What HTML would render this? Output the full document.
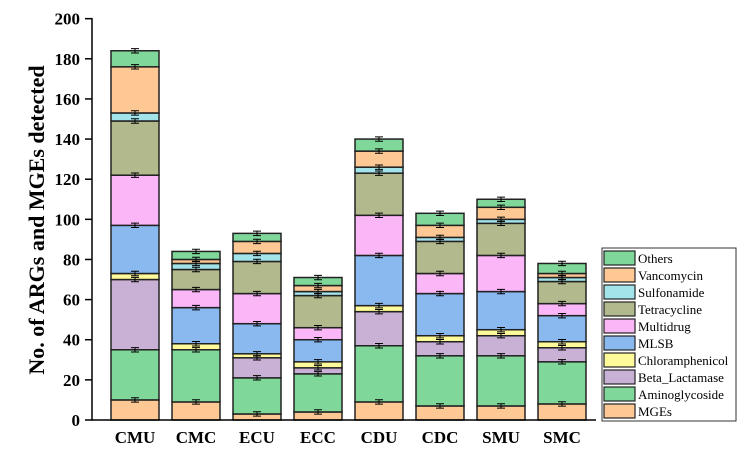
<!DOCTYPE html><html><head><style>body{margin:0;background:#fff}svg{display:block}svg text{font-family:"Liberation Serif","Times New Roman",serif}</style></head><body>
<svg id="s" width="754" height="453" xmlns="http://www.w3.org/2000/svg"></svg>
<script>
const s=document.getElementById('s');let h='';
const Y=v=>420-v*2.0067;
const cols=['#fdc894','#7fd79a','#c9b1d6','#fefa9a','#8ab9f0','#fbb6f8','#b2b98c','#a3e4ea','#fdc894','#7fd79a'];
const names=['MGEs','Aminoglycoside','Beta_Lactamase','Chloramphenicol','MLSB','Multidrug','Tetracycline','Sulfonamide','Vancomycin','Others'];
const data={CMU:[10,35,70,73,97,122,149,153,176,184],CMC:[9,35,35,38,56,65,75,78,80,84],ECU:[3,21,31,33,48,63,79,83,89,93],ECC:[4,23,26,29,40,46,62,64,67,71],CDU:[9,37,54,57,82,102,123,126,134,140],CDC:[7,32,39,42,63,73,89,91,97,103],SMU:[7,32,42,45,64,82,98,100,106,110],SMC:[8,29,36,39,52,58,69,71,73,78]};
let i=0;
for(const k in data){const x=111+i*61,d=data[k];let prev=0;
d.forEach((t,j)=>{if(t>prev){h+=`<rect x="${x}" y="${Y(t)}" width="48" height="${Y(prev)-Y(t)}" fill="${cols[j]}" stroke="#222" stroke-width="1.5"/>`;}prev=t;});
let p=0;d.forEach(t=>{if(t>p){const c=x+24,e=1.2;h+=`<path d="M${c} ${Y(t)-e-1}V${Y(t)+e+1}M${c-4} ${Y(t)-e-1}H${c+4}M${c-4} ${Y(t)+e+1}H${c+4}" stroke="#000" stroke-width="1"/>`;}p=t;});
h+=`<text x="${x+24}" y="443" text-anchor="middle" font-weight="bold" font-size="17">${k}</text>`;i++;}
h+=`<path d="M92 18V420H596" stroke="#000" stroke-width="1.5" fill="none"/>`;
for(let v=0;v<=200;v+=20){h+=`<line x1="85" x2="92" y1="${Y(v)}" y2="${Y(v)}" stroke="#000" stroke-width="1.5"/><text x="80" y="${Y(v)+6}" text-anchor="end" font-weight="bold" font-size="17">${v}</text>`;}
h+=`<text transform="translate(44,220) rotate(-90)" text-anchor="middle" font-weight="bold" font-size="22">No. of ARGs and MGEs detected</text>`;
h+=`<rect x="602" y="248" width="134" height="173" fill="#fff" stroke="#333" stroke-width="1"/>`;
for(let j=0;j<10;j++){const idx=9-j,yy=251+j*17;h+=`<rect x="604" y="${yy}" width="31" height="14" fill="${cols[idx]}" stroke="#222" stroke-width="1.2"/><text x="638" y="${yy+12}" font-size="13">${names[idx]}</text>`;}
s.innerHTML=h;
</script></body></html>
